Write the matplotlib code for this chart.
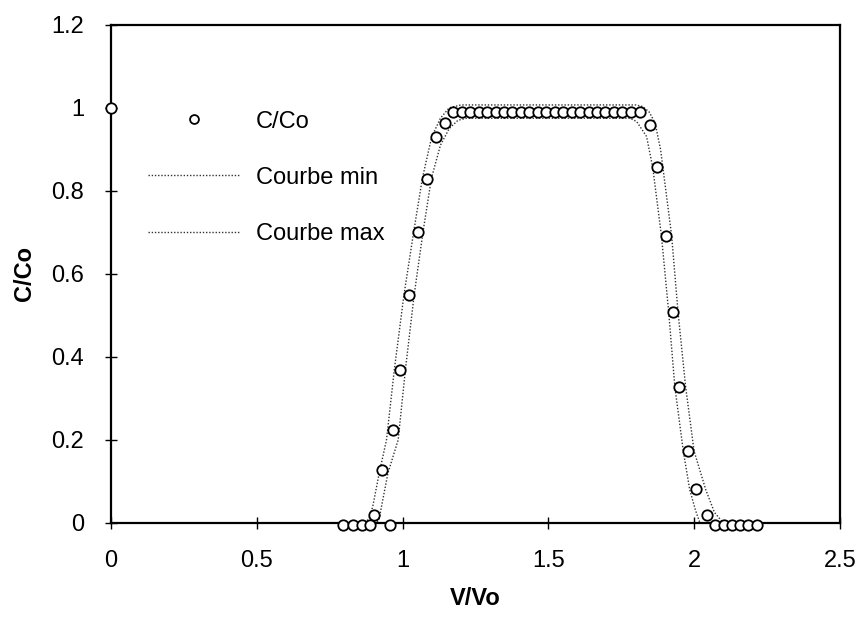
import numpy as np
import matplotlib.pyplot as plt
from matplotlib.ticker import FuncFormatter

plt.rcParams['font.family'] = ['Liberation Sans', 'DejaVu Sans']

# points mesures C/Co
x_pts = [0.0, 0.796, 0.830, 0.861, 0.888, 0.902, 0.928, 0.957, 0.968, 0.991,
         1.023, 1.054, 1.085, 1.115, 1.145,
         1.174, 1.203, 1.232, 1.261, 1.290, 1.319, 1.348, 1.377, 1.406, 1.435,
         1.464, 1.493, 1.522, 1.551, 1.580, 1.609, 1.638, 1.667, 1.696, 1.725,
         1.754, 1.783, 1.814,
         1.848, 1.873, 1.903, 1.928, 1.949, 1.980, 2.008, 2.043,
         2.072, 2.101, 2.129, 2.158, 2.186, 2.215]
y_pts = [1.0, -0.005, -0.005, -0.005, -0.005, 0.02, 0.128, -0.005, 0.224, 0.369,
         0.548, 0.700, 0.829, 0.929, 0.963,
         0.99, 0.99, 0.99, 0.99, 0.99, 0.99, 0.99, 0.99, 0.99, 0.99,
         0.99, 0.99, 0.99, 0.99, 0.99, 0.99, 0.99, 0.99, 0.99, 0.99,
         0.99, 0.99, 0.99,
         0.959, 0.857, 0.692, 0.507, 0.328, 0.173, 0.082, 0.019,
         -0.005, -0.005, -0.005, -0.005, -0.005, -0.005]

# courbe min (interieure)
x_min = [0.75, 0.91, 0.92, 0.928, 0.95, 0.985, 1.01, 1.04, 1.07, 1.099, 1.13,
         1.16, 1.19, 1.22, 1.50, 1.78, 1.803, 1.837, 1.858, 1.888, 1.913,
         1.934, 1.963, 1.985, 2.005, 2.02, 2.05]
y_min = [0.0, 0.0, 0.01, 0.04, 0.12, 0.2, 0.37, 0.55, 0.70, 0.83, 0.91,
         0.95, 0.97, 0.975, 0.975, 0.975, 0.967, 0.931, 0.857, 0.692, 0.507,
         0.328, 0.173, 0.08, 0.03, 0.0, 0.0]

# courbe max (exterieure)
x_max = [0.75, 0.87, 0.885, 0.898, 0.92, 0.945, 0.972, 1.005, 1.038, 1.068,
         1.10, 1.13, 1.16, 1.20, 1.50, 1.80, 1.824, 1.846, 1.866, 1.885,
         1.923, 1.945, 1.971, 2.00, 2.04, 2.07, 2.10, 2.30]
y_max = [0.0, 0.0, 0.01, 0.04, 0.12, 0.2, 0.37, 0.55, 0.70, 0.83,
         0.93, 0.975, 1.0, 1.007, 1.007, 1.007, 1.003, 0.99, 0.964, 0.9,
         0.692, 0.507, 0.328, 0.173, 0.08, 0.025, 0.0, 0.0]

fig = plt.figure(figsize=(8.57, 6.21), dpi=100)
ax = fig.add_axes([0.1295, 0.158, 0.8505, 0.802])

ax.plot(x_pts, y_pts, 'o', color='black', markerfacecolor='white',
        markersize=7.5, markeredgewidth=1.3, label='C/Co', clip_on=False, zorder=5)
ax.plot(x_min, y_min, color='#333333', lw=1.0, linestyle=(0, (1, 1.3)),
        label='Courbe min')
ax.plot(x_max, y_max, color='#333333', lw=1.0, linestyle=(0, (1, 1.3)),
        label='Courbe max')

ax.set_xlim(0, 2.5)
ax.set_ylim(0, 1.2)
ax.set_xticks([0, 0.5, 1, 1.5, 2, 2.5])
ax.set_yticks([0, 0.2, 0.4, 0.6, 0.8, 1, 1.2])
fmt = FuncFormatter(lambda v, p: '{:g}'.format(v))
ax.xaxis.set_major_formatter(fmt)
ax.yaxis.set_major_formatter(fmt)
ax.tick_params(axis='x', direction='inout', length=9, width=1, pad=15, labelsize=17)
ax.tick_params(axis='y', direction='inout', length=9, width=1, pad=15, labelsize=17)
for s in ax.spines.values():
    s.set_linewidth(1.6)

ax.set_xlabel('V/Vo', fontsize=17, fontweight='bold', labelpad=11)
ax.set_ylabel('C/Co', fontsize=17, fontweight='bold', labelpad=11)

ax.legend(loc='upper left', bbox_to_anchor=(0.051, 0.828), frameon=False,
          fontsize=17, handlelength=3.9, handletextpad=0.65, labelspacing=1.45,
          borderpad=0, borderaxespad=0, markerscale=0.85)

plt.savefig('out.png', dpi=100)
